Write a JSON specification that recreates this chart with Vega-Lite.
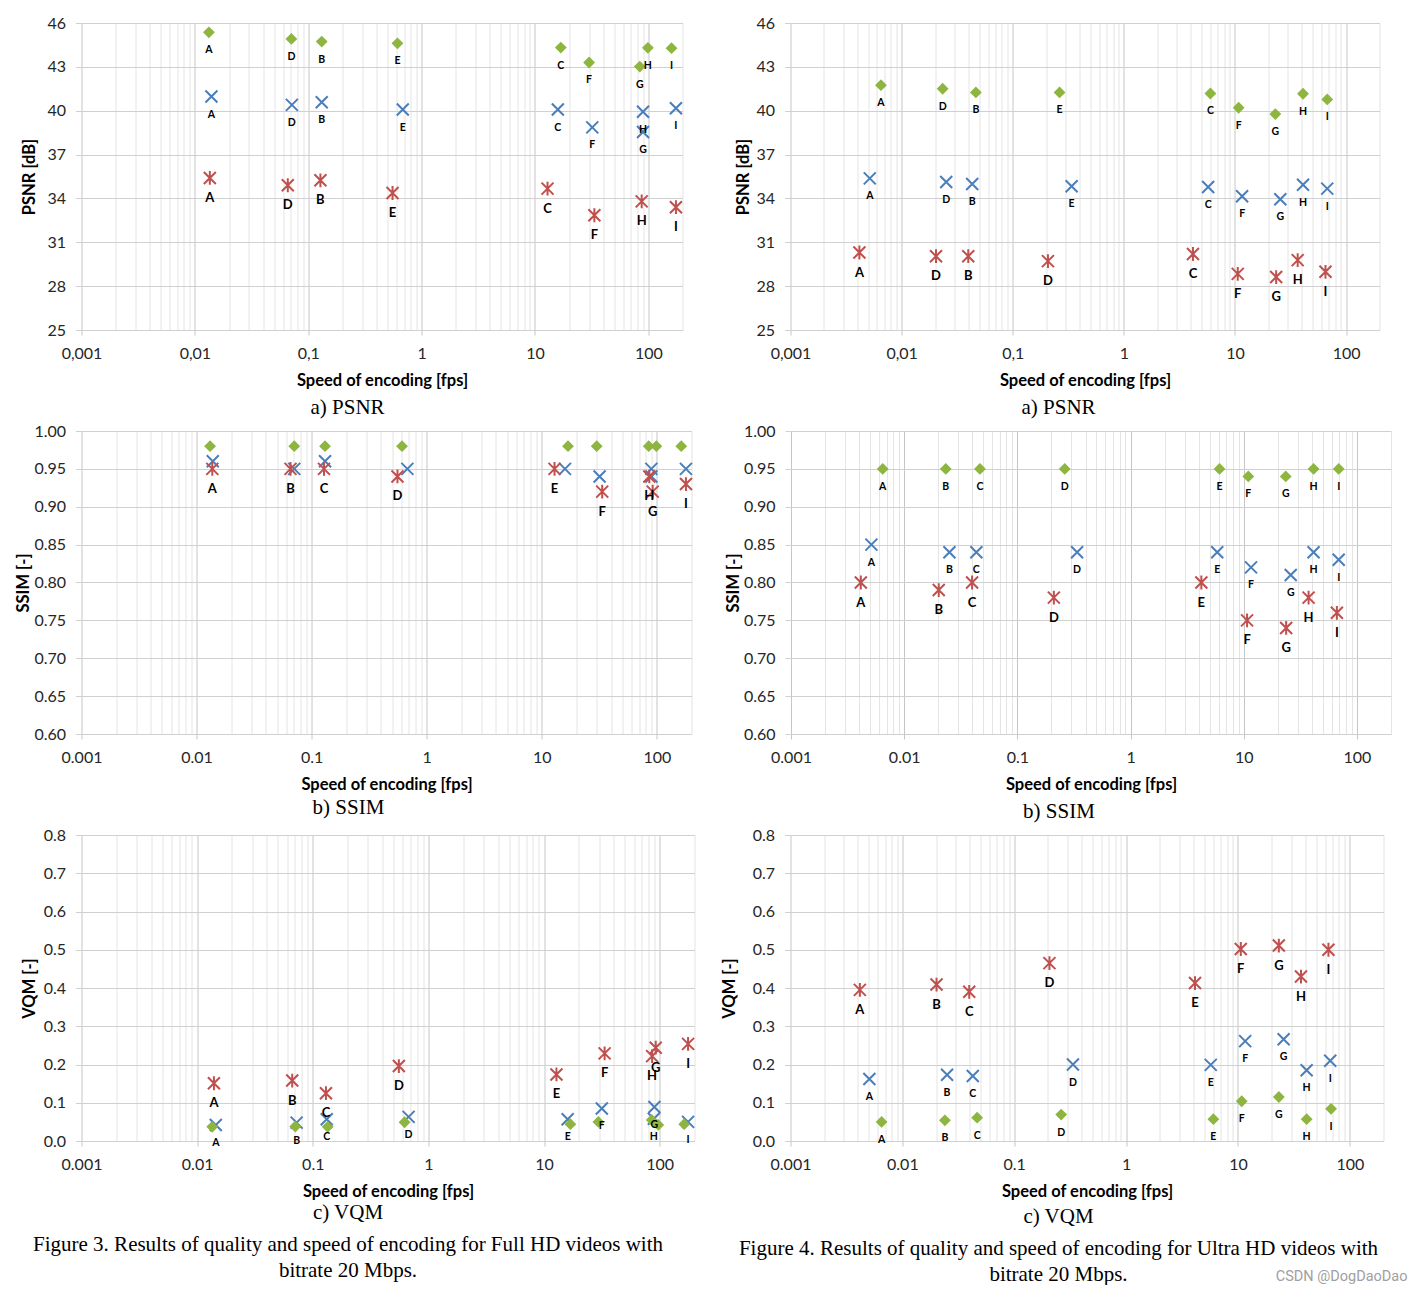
{
  "$schema": "https://vega.github.io/schema/vega-lite/v6.json",
  "background": "white",
  "padding": {"left": 15.5, "top": 15, "right": 0, "bottom": 0},
  "config": {
    "view": {"stroke": null},
    "axis": {"labelFont": "Lato", "labelFontSize": 16, "labelColor": "#262626", "titleFont": "Lato", "titleFontSize": 16.5, "titleFontWeight": "bold", "titleColor": "#000000", "domain": false, "gridWidth": 1},
    "axisY": {"tickSize": 6, "tickColor": "#d0d0d0", "gridColor": "#d0d0d0", "labelPadding": 10, "titlePadding": 4},
    "axisX": {"tickSize": 5, "labelPadding": 10, "titlePadding": 11},
    "title": {"font": "Liberation Serif", "fontSize": 21, "fontWeight": "normal", "color": "#000000", "subtitleFont": "Liberation Serif", "subtitleFontSize": 21, "subtitleColor": "#000000", "subtitleLineHeight": 26, "subtitlePadding": 11}
  },
  "datasets": {
    "psnrL": [
      {"series": "S1", "label": "A", "speed": 0.0133, "value": 45.36},
      {"series": "S1", "label": "D", "speed": 0.071, "value": 44.91},
      {"series": "S1", "label": "B", "speed": 0.1315, "value": 44.73},
      {"series": "S1", "label": "E", "speed": 0.612, "value": 44.61},
      {"series": "S1", "label": "C", "speed": 16.9, "value": 44.32},
      {"series": "S1", "label": "F", "speed": 30, "value": 43.3},
      {"series": "S1", "label": "G", "speed": 84, "value": 43.02},
      {"series": "S1", "label": "H", "speed": 99, "value": 44.3},
      {"series": "S1", "label": "I", "speed": 160, "value": 44.28},
      {"series": "S2", "label": "A", "speed": 0.014, "value": 40.97},
      {"series": "S2", "label": "D", "speed": 0.0717, "value": 40.4},
      {"series": "S2", "label": "B", "speed": 0.1315, "value": 40.58},
      {"series": "S2", "label": "E", "speed": 0.682, "value": 40.08},
      {"series": "S2", "label": "C", "speed": 15.9, "value": 40.08},
      {"series": "S2", "label": "F", "speed": 32, "value": 38.86},
      {"series": "S2", "label": "H", "speed": 89.7, "value": 39.93},
      {"series": "S2", "label": "G", "speed": 89.7, "value": 38.54},
      {"series": "S2", "label": "I", "speed": 175, "value": 40.17},
      {"series": "S3", "label": "A", "speed": 0.01355, "value": 35.4},
      {"series": "S3", "label": "D", "speed": 0.066, "value": 34.9},
      {"series": "S3", "label": "B", "speed": 0.128, "value": 35.24},
      {"series": "S3", "label": "E", "speed": 0.554, "value": 34.37},
      {"series": "S3", "label": "C", "speed": 12.9, "value": 34.67},
      {"series": "S3", "label": "F", "speed": 33.4, "value": 32.85},
      {"series": "S3", "label": "H", "speed": 87.3, "value": 33.8},
      {"series": "S3", "label": "I", "speed": 175, "value": 33.4}
    ],
    "psnrR": [
      {"series": "S1", "label": "A", "speed": 0.00652, "value": 41.75},
      {"series": "S1", "label": "D", "speed": 0.0234, "value": 41.5},
      {"series": "S1", "label": "B", "speed": 0.0466, "value": 41.25},
      {"series": "S1", "label": "E", "speed": 0.264, "value": 41.25},
      {"series": "S1", "label": "C", "speed": 6.01, "value": 41.18},
      {"series": "S1", "label": "F", "speed": 10.8, "value": 40.2},
      {"series": "S1", "label": "G", "speed": 23.1, "value": 39.77},
      {"series": "S1", "label": "H", "speed": 41, "value": 41.16},
      {"series": "S1", "label": "I", "speed": 67.7, "value": 40.77},
      {"series": "S2", "label": "A", "speed": 0.00517, "value": 35.37},
      {"series": "S2", "label": "D", "speed": 0.0252, "value": 35.12},
      {"series": "S2", "label": "B", "speed": 0.0432, "value": 34.99},
      {"series": "S2", "label": "E", "speed": 0.339, "value": 34.83},
      {"series": "S2", "label": "C", "speed": 5.74, "value": 34.78},
      {"series": "S2", "label": "F", "speed": 11.6, "value": 34.15},
      {"series": "S2", "label": "G", "speed": 25.6, "value": 33.94},
      {"series": "S2", "label": "H", "speed": 41, "value": 34.94},
      {"series": "S2", "label": "I", "speed": 67.7, "value": 34.67},
      {"series": "S3", "label": "A", "speed": 0.00417, "value": 30.3},
      {"series": "S3", "label": "D", "speed": 0.0204, "value": 30.05},
      {"series": "S3", "label": "B", "speed": 0.0398, "value": 30.05},
      {"series": "S3", "label": "D", "speed": 0.2075, "value": 29.71},
      {"series": "S3", "label": "C", "speed": 4.19, "value": 30.2},
      {"series": "S3", "label": "F", "speed": 10.6, "value": 28.84},
      {"series": "S3", "label": "G", "speed": 23.5, "value": 28.62},
      {"series": "S3", "label": "H", "speed": 36.7, "value": 29.78},
      {"series": "S3", "label": "I", "speed": 65.3, "value": 28.98}
    ],
    "ssimL": [
      {"series": "S1", "label": "A", "speed": 0.0131, "value": 0.98},
      {"series": "S1", "label": "B", "speed": 0.0706, "value": 0.98},
      {"series": "S1", "label": "C", "speed": 0.1307, "value": 0.98},
      {"series": "S1", "label": "D", "speed": 0.61, "value": 0.98},
      {"series": "S1", "label": "E", "speed": 16.9, "value": 0.98},
      {"series": "S1", "label": "F", "speed": 30, "value": 0.98},
      {"series": "S1", "label": "G", "speed": 85, "value": 0.98},
      {"series": "S1", "label": "H", "speed": 99, "value": 0.98},
      {"series": "S1", "label": "I", "speed": 163, "value": 0.98},
      {"series": "S2", "label": "A", "speed": 0.01383, "value": 0.96},
      {"series": "S2", "label": "B", "speed": 0.0706, "value": 0.95},
      {"series": "S2", "label": "C", "speed": 0.1307, "value": 0.96},
      {"series": "S2", "label": "D", "speed": 0.679, "value": 0.95},
      {"series": "S2", "label": "E", "speed": 15.9, "value": 0.95},
      {"series": "S2", "label": "F", "speed": 31.8, "value": 0.94},
      {"series": "S2", "label": "H", "speed": 89.6, "value": 0.95},
      {"series": "S2", "label": "G", "speed": 89.6, "value": 0.94},
      {"series": "S2", "label": "I", "speed": 179, "value": 0.95},
      {"series": "S3", "label": "A", "speed": 0.0137, "value": 0.95},
      {"series": "S3", "label": "B", "speed": 0.0655, "value": 0.95},
      {"series": "S3", "label": "C", "speed": 0.128, "value": 0.95},
      {"series": "S3", "label": "D", "speed": 0.557, "value": 0.94},
      {"series": "S3", "label": "E", "speed": 12.9, "value": 0.95},
      {"series": "S3", "label": "F", "speed": 33.5, "value": 0.92},
      {"series": "S3", "label": "H", "speed": 86, "value": 0.94},
      {"series": "S3", "label": "G", "speed": 92, "value": 0.92},
      {"series": "S3", "label": "I", "speed": 179, "value": 0.93}
    ],
    "ssimR": [
      {"series": "S1", "label": "A", "speed": 0.00646, "value": 0.95},
      {"series": "S1", "label": "B", "speed": 0.0233, "value": 0.95},
      {"series": "S1", "label": "C", "speed": 0.0467, "value": 0.95},
      {"series": "S1", "label": "D", "speed": 0.262, "value": 0.95},
      {"series": "S1", "label": "E", "speed": 6.11, "value": 0.95},
      {"series": "S1", "label": "F", "speed": 10.97, "value": 0.94},
      {"series": "S1", "label": "G", "speed": 23.5, "value": 0.94},
      {"series": "S1", "label": "H", "speed": 41.4, "value": 0.95},
      {"series": "S1", "label": "I", "speed": 69, "value": 0.95},
      {"series": "S2", "label": "A", "speed": 0.00513, "value": 0.85},
      {"series": "S2", "label": "B", "speed": 0.0251, "value": 0.84},
      {"series": "S2", "label": "C", "speed": 0.0434, "value": 0.84},
      {"series": "S2", "label": "D", "speed": 0.337, "value": 0.84},
      {"series": "S2", "label": "E", "speed": 5.83, "value": 0.84},
      {"series": "S2", "label": "F", "speed": 11.6, "value": 0.82},
      {"series": "S2", "label": "G", "speed": 26, "value": 0.81},
      {"series": "S2", "label": "H", "speed": 41.4, "value": 0.84},
      {"series": "S2", "label": "I", "speed": 69, "value": 0.83},
      {"series": "S3", "label": "A", "speed": 0.00414, "value": 0.8},
      {"series": "S3", "label": "B", "speed": 0.0202, "value": 0.79},
      {"series": "S3", "label": "C", "speed": 0.0398, "value": 0.8},
      {"series": "S3", "label": "D", "speed": 0.21, "value": 0.78},
      {"series": "S3", "label": "E", "speed": 4.22, "value": 0.8},
      {"series": "S3", "label": "F", "speed": 10.7, "value": 0.75},
      {"series": "S3", "label": "G", "speed": 23.7, "value": 0.74},
      {"series": "S3", "label": "H", "speed": 37.4, "value": 0.78},
      {"series": "S3", "label": "I", "speed": 66.5, "value": 0.76}
    ],
    "vqmL": [
      {"series": "S1", "label": "A", "speed": 0.0135, "value": 0.037},
      {"series": "S1", "label": "B", "speed": 0.0706, "value": 0.038},
      {"series": "S1", "label": "C", "speed": 0.1346, "value": 0.037},
      {"series": "S1", "label": "D", "speed": 0.622, "value": 0.049},
      {"series": "S1", "label": "E", "speed": 16.9, "value": 0.044},
      {"series": "S1", "label": "F", "speed": 29.5, "value": 0.05},
      {"series": "S1", "label": "G", "speed": 85.4, "value": 0.055},
      {"series": "S1", "label": "H", "speed": 97.3, "value": 0.042},
      {"series": "S1", "label": "I", "speed": 163, "value": 0.044},
      {"series": "S2", "label": "A", "speed": 0.0145, "value": 0.042},
      {"series": "S2", "label": "B", "speed": 0.0725, "value": 0.048},
      {"series": "S2", "label": "C", "speed": 0.132, "value": 0.057},
      {"series": "S2", "label": "D", "speed": 0.674, "value": 0.063},
      {"series": "S2", "label": "E", "speed": 16, "value": 0.057},
      {"series": "S2", "label": "F", "speed": 31.6, "value": 0.085},
      {"series": "S2", "label": "G", "speed": 90, "value": 0.089},
      {"series": "S2", "label": "H", "speed": 89, "value": 0.058},
      {"series": "S2", "label": "I", "speed": 176, "value": 0.05},
      {"series": "S3", "label": "A", "speed": 0.01397, "value": 0.151},
      {"series": "S3", "label": "B", "speed": 0.0664, "value": 0.158},
      {"series": "S3", "label": "C", "speed": 0.13, "value": 0.125},
      {"series": "S3", "label": "D", "speed": 0.555, "value": 0.196},
      {"series": "S3", "label": "E", "speed": 12.8, "value": 0.174},
      {"series": "S3", "label": "F", "speed": 33.4, "value": 0.229},
      {"series": "S3", "label": "H", "speed": 86, "value": 0.222},
      {"series": "S3", "label": "G", "speed": 92.4, "value": 0.244},
      {"series": "S3", "label": "I", "speed": 176, "value": 0.254}
    ],
    "vqmR": [
      {"series": "S1", "label": "A", "speed": 0.00652, "value": 0.05},
      {"series": "S1", "label": "B", "speed": 0.024, "value": 0.054},
      {"series": "S1", "label": "C", "speed": 0.0466, "value": 0.061},
      {"series": "S1", "label": "D", "speed": 0.263, "value": 0.069},
      {"series": "S1", "label": "E", "speed": 6.03, "value": 0.057},
      {"series": "S1", "label": "F", "speed": 10.8, "value": 0.104},
      {"series": "S1", "label": "G", "speed": 23.2, "value": 0.115},
      {"series": "S1", "label": "H", "speed": 41.1, "value": 0.057},
      {"series": "S1", "label": "I", "speed": 68, "value": 0.084},
      {"series": "S2", "label": "A", "speed": 0.00507, "value": 0.162},
      {"series": "S2", "label": "B", "speed": 0.0251, "value": 0.173},
      {"series": "S2", "label": "C", "speed": 0.0426, "value": 0.17},
      {"series": "S2", "label": "D", "speed": 0.335, "value": 0.2},
      {"series": "S2", "label": "E", "speed": 5.71, "value": 0.199},
      {"series": "S2", "label": "F", "speed": 11.6, "value": 0.261},
      {"series": "S2", "label": "G", "speed": 25.6, "value": 0.266},
      {"series": "S2", "label": "H", "speed": 41.1, "value": 0.185},
      {"series": "S2", "label": "I", "speed": 66.8, "value": 0.21},
      {"series": "S3", "label": "A", "speed": 0.00417, "value": 0.395},
      {"series": "S3", "label": "B", "speed": 0.0202, "value": 0.409},
      {"series": "S3", "label": "C", "speed": 0.0396, "value": 0.39},
      {"series": "S3", "label": "D", "speed": 0.2065, "value": 0.465},
      {"series": "S3", "label": "E", "speed": 4.13, "value": 0.413},
      {"series": "S3", "label": "F", "speed": 10.6, "value": 0.502},
      {"series": "S3", "label": "G", "speed": 23.2, "value": 0.511},
      {"series": "S3", "label": "H", "speed": 36.6, "value": 0.43},
      {"series": "S3", "label": "I", "speed": 64.4, "value": 0.5}
    ]
  },
  "title": {"text": "CSDN @DogDaoDao", "orient": "bottom", "anchor": "end", "font": "Roboto", "fontSize": 14.5, "fontWeight": "normal", "color": "#a0a0a0", "dy": -15, "dx": 16, "offset": 0},
  "resolve": {"scale": {"x": "independent", "y": "independent"}},
  "spacing": 5,
  "vconcat": [
    {
      "spacing": 48,
      "resolve": {"scale": {"x": "independent", "y": "independent"}},
      "hconcat": [
        {
          "width": 601, "height": 307,
          "data": {"name": "psnrL"},
          "title": {"text": "a) PSNR", "orient": "bottom", "offset": 8, "dx": -34.5},
          "encoding": {
            "x": {"field": "speed", "type": "quantitative", "scale": {"type": "log", "domain": [0.001, 200], "nice": false},
              "axis": {"title": "Speed of encoding [fps]", "values": [0.001,0.002,0.003,0.004,0.005,0.006,0.007,0.008,0.009,0.01,0.02,0.03,0.04,0.05,0.06,0.07,0.08,0.09,0.1,0.2,0.3,0.4,0.5,0.6,0.7,0.8,0.9,1,2,3,4,5,6,7,8,9,10,20,30,40,50,60,70,80,90,100,200],
                "labelExpr": "indexof([0.001,0.01,0.1,1,10,100], datum.value) >= 0 ? replace(toString(datum.value), '.', ',') : ''",
                "labelOverlap": false, "labelFlush": false,
                "gridColor": {"condition": {"test": "indexof([0.001,0.01,0.1,1,10,100], datum.value) >= 0", "value": "#c6c6c6"}, "value": "#e4e4e4"},
                "tickColor": {"condition": {"test": "indexof([0.001,0.01,0.1,1,10,100], datum.value) >= 0", "value": "#c6c6c6"}, "value": "rgba(0,0,0,0)"}}},
            "y": {"field": "value", "type": "quantitative", "scale": {"domain": [25, 46], "nice": false, "zero": false},
              "axis": {"title": "PSNR  [dB]", "values": [25,28,31,34,37,40,43,46], "minExtent": 40, "maxExtent": 40}}
          },
          "layer": [
            {"transform": [{"filter": "datum.series != 'S1'"}], "mark": {"type": "point", "filled": false, "size": 144, "strokeWidth": 2, "opacity": 1},
              "encoding": {"shape": {"field": "series", "type": "nominal", "scale": {"domain": ["S2","S3"], "range": ["M-1,-1L1,1M1,-1L-1,1", "M-1,-1L1,1M1,-1L-1,1M0,-1.15L0,1.15"]}, "legend": null},
                "color": {"field": "series", "type": "nominal", "scale": {"domain": ["S2","S3"], "range": ["#4a7ebb","#c0504d"]}, "legend": null}}},
            {"transform": [{"filter": "datum.series == 'S1'"}], "mark": {"type": "point", "shape": "diamond", "filled": true, "size": 140, "color": "#8db53f", "opacity": 1}},
            {"transform": [{"filter": "datum.series != 'S3'"}], "mark": {"type": "text", "dy": 18, "fontSize": 10.5, "fontWeight": "bold", "font": "Lato", "color": "#000000"}, "encoding": {"text": {"field": "label"}}},
            {"transform": [{"filter": "datum.series == 'S3'"}], "mark": {"type": "text", "dy": 20, "fontSize": 13, "fontWeight": "bold", "font": "Lato", "color": "#000000"}, "encoding": {"text": {"field": "label"}}}
          ]
        },
        {
          "width": 589, "height": 307,
          "data": {"name": "psnrR"},
          "title": {"text": "a) PSNR", "orient": "bottom", "offset": 8, "dx": -26.5},
          "encoding": {
            "x": {"field": "speed", "type": "quantitative", "scale": {"type": "log", "domain": [0.001, 200], "nice": false},
              "axis": {"title": "Speed of encoding [fps]", "values": [0.001,0.002,0.003,0.004,0.005,0.006,0.007,0.008,0.009,0.01,0.02,0.03,0.04,0.05,0.06,0.07,0.08,0.09,0.1,0.2,0.3,0.4,0.5,0.6,0.7,0.8,0.9,1,2,3,4,5,6,7,8,9,10,20,30,40,50,60,70,80,90,100,200],
                "labelExpr": "indexof([0.001,0.01,0.1,1,10,100], datum.value) >= 0 ? replace(toString(datum.value), '.', ',') : ''",
                "labelOverlap": false, "labelFlush": false,
                "gridColor": {"condition": {"test": "indexof([0.001,0.01,0.1,1,10,100], datum.value) >= 0", "value": "#c6c6c6"}, "value": "#e4e4e4"},
                "tickColor": {"condition": {"test": "indexof([0.001,0.01,0.1,1,10,100], datum.value) >= 0", "value": "#c6c6c6"}, "value": "rgba(0,0,0,0)"}}},
            "y": {"field": "value", "type": "quantitative", "scale": {"domain": [25, 46], "nice": false, "zero": false},
              "axis": {"title": "PSNR  [dB]", "values": [25,28,31,34,37,40,43,46], "minExtent": 35.5, "maxExtent": 35.5}}
          },
          "layer": [
            {"transform": [{"filter": "datum.series != 'S1'"}], "mark": {"type": "point", "filled": false, "size": 144, "strokeWidth": 2, "opacity": 1},
              "encoding": {"shape": {"field": "series", "type": "nominal", "scale": {"domain": ["S2","S3"], "range": ["M-1,-1L1,1M1,-1L-1,1", "M-1,-1L1,1M1,-1L-1,1M0,-1.15L0,1.15"]}, "legend": null},
                "color": {"field": "series", "type": "nominal", "scale": {"domain": ["S2","S3"], "range": ["#4a7ebb","#c0504d"]}, "legend": null}}},
            {"transform": [{"filter": "datum.series == 'S1'"}], "mark": {"type": "point", "shape": "diamond", "filled": true, "size": 140, "color": "#8db53f", "opacity": 1}},
            {"transform": [{"filter": "datum.series != 'S3'"}], "mark": {"type": "text", "dy": 18, "fontSize": 10.5, "fontWeight": "bold", "font": "Lato", "color": "#000000"}, "encoding": {"text": {"field": "label"}}},
            {"transform": [{"filter": "datum.series == 'S3'"}], "mark": {"type": "text", "dy": 20, "fontSize": 13, "fontWeight": "bold", "font": "Lato", "color": "#000000"}, "encoding": {"text": {"field": "label"}}}
          ]
        }
      ]
    },
    {
      "spacing": 28.5,
      "resolve": {"scale": {"x": "independent", "y": "independent"}},
      "hconcat": [
        {
          "width": 610, "height": 303,
          "data": {"name": "ssimL"},
          "title": {"text": "b) SSIM", "orient": "bottom", "offset": 4, "dx": -38},
          "encoding": {
            "x": {"field": "speed", "type": "quantitative", "scale": {"type": "log", "domain": [0.001, 200], "nice": false},
              "axis": {"title": "Speed of encoding [fps]", "values": [0.001,0.002,0.003,0.004,0.005,0.006,0.007,0.008,0.009,0.01,0.02,0.03,0.04,0.05,0.06,0.07,0.08,0.09,0.1,0.2,0.3,0.4,0.5,0.6,0.7,0.8,0.9,1,2,3,4,5,6,7,8,9,10,20,30,40,50,60,70,80,90,100,200],
                "labelExpr": "indexof([0.001,0.01,0.1,1,10,100], datum.value) >= 0 ? toString(datum.value) : ''",
                "labelOverlap": false, "labelFlush": false,
                "gridColor": {"condition": {"test": "indexof([0.001,0.01,0.1,1,10,100], datum.value) >= 0", "value": "#c6c6c6"}, "value": "#e4e4e4"},
                "tickColor": {"condition": {"test": "indexof([0.001,0.01,0.1,1,10,100], datum.value) >= 0", "value": "#c6c6c6"}, "value": "rgba(0,0,0,0)"}}},
            "y": {"field": "value", "type": "quantitative", "scale": {"domain": [0.6, 1], "nice": false, "zero": false},
              "axis": {"title": "SSIM [-]", "values": [0.6,0.65,0.7,0.75,0.8,0.85,0.9,0.95,1], "format": ".2f", "minExtent": 46, "maxExtent": 46}}
          },
          "layer": [
            {"transform": [{"filter": "datum.series != 'S1'"}], "mark": {"type": "point", "filled": false, "size": 144, "strokeWidth": 2, "opacity": 1},
              "encoding": {"shape": {"field": "series", "type": "nominal", "scale": {"domain": ["S2","S3"], "range": ["M-1,-1L1,1M1,-1L-1,1", "M-1,-1L1,1M1,-1L-1,1M0,-1.15L0,1.15"]}, "legend": null},
                "color": {"field": "series", "type": "nominal", "scale": {"domain": ["S2","S3"], "range": ["#4a7ebb","#c0504d"]}, "legend": null}}},
            {"transform": [{"filter": "datum.series == 'S1'"}], "mark": {"type": "point", "shape": "diamond", "filled": true, "size": 140, "color": "#8db53f", "opacity": 1}},
            {"transform": [{"filter": "datum.series == 'S3'"}], "mark": {"type": "text", "dy": 20, "fontSize": 13, "fontWeight": "bold", "font": "Lato", "color": "#000000"}, "encoding": {"text": {"field": "label"}}}
          ]
        },
        {
          "width": 600, "height": 303,
          "data": {"name": "ssimR"},
          "title": {"text": "b) SSIM", "orient": "bottom", "offset": 8, "dx": -32},
          "encoding": {
            "x": {"field": "speed", "type": "quantitative", "scale": {"type": "log", "domain": [0.001, 200], "nice": false},
              "axis": {"title": "Speed of encoding [fps]", "values": [0.001,0.002,0.003,0.004,0.005,0.006,0.007,0.008,0.009,0.01,0.02,0.03,0.04,0.05,0.06,0.07,0.08,0.09,0.1,0.2,0.3,0.4,0.5,0.6,0.7,0.8,0.9,1,2,3,4,5,6,7,8,9,10,20,30,40,50,60,70,80,90,100,200],
                "labelExpr": "indexof([0.001,0.01,0.1,1,10,100], datum.value) >= 0 ? toString(datum.value) : ''",
                "labelOverlap": false, "labelFlush": false,
                "gridColor": {"condition": {"test": "indexof([0.001,0.01,0.1,1,10,100], datum.value) >= 0", "value": "#c6c6c6"}, "value": "#e4e4e4"},
                "tickColor": {"condition": {"test": "indexof([0.001,0.01,0.1,1,10,100], datum.value) >= 0", "value": "#c6c6c6"}, "value": "rgba(0,0,0,0)"}}},
            "y": {"field": "value", "type": "quantitative", "scale": {"domain": [0.6, 1], "nice": false, "zero": false},
              "axis": {"title": "SSIM [-]", "values": [0.6,0.65,0.7,0.75,0.8,0.85,0.9,0.95,1], "format": ".2f", "minExtent": 46, "maxExtent": 46}}
          },
          "layer": [
            {"transform": [{"filter": "datum.series != 'S1'"}], "mark": {"type": "point", "filled": false, "size": 144, "strokeWidth": 2, "opacity": 1},
              "encoding": {"shape": {"field": "series", "type": "nominal", "scale": {"domain": ["S2","S3"], "range": ["M-1,-1L1,1M1,-1L-1,1", "M-1,-1L1,1M1,-1L-1,1M0,-1.15L0,1.15"]}, "legend": null},
                "color": {"field": "series", "type": "nominal", "scale": {"domain": ["S2","S3"], "range": ["#4a7ebb","#c0504d"]}, "legend": null}}},
            {"transform": [{"filter": "datum.series == 'S1'"}], "mark": {"type": "point", "shape": "diamond", "filled": true, "size": 140, "color": "#8db53f", "opacity": 1}},
            {"transform": [{"filter": "datum.series != 'S3'"}], "mark": {"type": "text", "dy": 18, "fontSize": 10.5, "fontWeight": "bold", "font": "Lato", "color": "#000000"}, "encoding": {"text": {"field": "label"}}},
            {"transform": [{"filter": "datum.series == 'S3'"}], "mark": {"type": "text", "dy": 20, "fontSize": 13, "fontWeight": "bold", "font": "Lato", "color": "#000000"}, "encoding": {"text": {"field": "label"}}}
          ]
        }
      ]
    },
    {
      "spacing": 22,
      "resolve": {"scale": {"x": "independent", "y": "independent"}},
      "hconcat": [
        {
          "width": 613, "height": 306,
          "data": {"name": "vqmL"},
          "title": {"text": "c) VQM", "subtitle": ["Figure 3. Results of quality and speed of encoding for Full HD videos with", "bitrate 20 Mbps."], "orient": "bottom", "offset": 2, "dx": -40},
          "encoding": {
            "x": {"field": "speed", "type": "quantitative", "scale": {"type": "log", "domain": [0.001, 200], "nice": false},
              "axis": {"title": "Speed of encoding [fps]", "values": [0.001,0.002,0.003,0.004,0.005,0.006,0.007,0.008,0.009,0.01,0.02,0.03,0.04,0.05,0.06,0.07,0.08,0.09,0.1,0.2,0.3,0.4,0.5,0.6,0.7,0.8,0.9,1,2,3,4,5,6,7,8,9,10,20,30,40,50,60,70,80,90,100,200],
                "labelExpr": "indexof([0.001,0.01,0.1,1,10,100], datum.value) >= 0 ? toString(datum.value) : ''",
                "labelOverlap": false, "labelFlush": false,
                "gridColor": {"condition": {"test": "indexof([0.001,0.01,0.1,1,10,100], datum.value) >= 0", "value": "#c6c6c6"}, "value": "#e4e4e4"},
                "tickColor": {"condition": {"test": "indexof([0.001,0.01,0.1,1,10,100], datum.value) >= 0", "value": "#c6c6c6"}, "value": "rgba(0,0,0,0)"}}},
            "y": {"field": "value", "type": "quantitative", "scale": {"domain": [0, 0.8], "nice": false, "zero": false},
              "axis": {"title": "VQM [-]", "values": [0,0.1,0.2,0.3,0.4,0.5,0.6,0.7,0.8], "format": ".1f", "minExtent": 40, "maxExtent": 40}}
          },
          "layer": [
            {"transform": [{"filter": "datum.series != 'S1'"}], "mark": {"type": "point", "filled": false, "size": 144, "strokeWidth": 2, "opacity": 1},
              "encoding": {"shape": {"field": "series", "type": "nominal", "scale": {"domain": ["S2","S3"], "range": ["M-1,-1L1,1M1,-1L-1,1", "M-1,-1L1,1M1,-1L-1,1M0,-1.15L0,1.15"]}, "legend": null},
                "color": {"field": "series", "type": "nominal", "scale": {"domain": ["S2","S3"], "range": ["#4a7ebb","#c0504d"]}, "legend": null}}},
            {"transform": [{"filter": "datum.series == 'S1'"}], "mark": {"type": "point", "shape": "diamond", "filled": true, "size": 140, "color": "#8db53f", "opacity": 1}},
            {"transform": [{"filter": "datum.series == 'S2'"}], "mark": {"type": "text", "dy": 18, "fontSize": 10.5, "fontWeight": "bold", "font": "Lato", "color": "#000000"}, "encoding": {"text": {"field": "label"}}},
            {"transform": [{"filter": "datum.series == 'S3'"}], "mark": {"type": "text", "dy": 20, "fontSize": 13, "fontWeight": "bold", "font": "Lato", "color": "#000000"}, "encoding": {"text": {"field": "label"}}}
          ]
        },
        {
          "width": 593, "height": 306,
          "data": {"name": "vqmR"},
          "title": {"text": "c) VQM", "subtitle": ["Figure 4. Results of quality and speed of encoding for Ultra HD videos with", "bitrate 20 Mbps."], "orient": "bottom", "offset": 6, "dx": -28.5},
          "encoding": {
            "x": {"field": "speed", "type": "quantitative", "scale": {"type": "log", "domain": [0.001, 200], "nice": false},
              "axis": {"title": "Speed of encoding [fps]", "values": [0.001,0.002,0.003,0.004,0.005,0.006,0.007,0.008,0.009,0.01,0.02,0.03,0.04,0.05,0.06,0.07,0.08,0.09,0.1,0.2,0.3,0.4,0.5,0.6,0.7,0.8,0.9,1,2,3,4,5,6,7,8,9,10,20,30,40,50,60,70,80,90,100,200],
                "labelExpr": "indexof([0.001,0.01,0.1,1,10,100], datum.value) >= 0 ? toString(datum.value) : ''",
                "labelOverlap": false, "labelFlush": false,
                "gridColor": {"condition": {"test": "indexof([0.001,0.01,0.1,1,10,100], datum.value) >= 0", "value": "#c6c6c6"}, "value": "#e4e4e4"},
                "tickColor": {"condition": {"test": "indexof([0.001,0.01,0.1,1,10,100], datum.value) >= 0", "value": "#c6c6c6"}, "value": "rgba(0,0,0,0)"}}},
            "y": {"field": "value", "type": "quantitative", "scale": {"domain": [0, 0.8], "nice": false, "zero": false},
              "axis": {"title": "VQM [-]", "values": [0,0.1,0.2,0.3,0.4,0.5,0.6,0.7,0.8], "format": ".1f", "minExtent": 49.5, "maxExtent": 49.5}}
          },
          "layer": [
            {"transform": [{"filter": "datum.series != 'S1'"}], "mark": {"type": "point", "filled": false, "size": 144, "strokeWidth": 2, "opacity": 1},
              "encoding": {"shape": {"field": "series", "type": "nominal", "scale": {"domain": ["S2","S3"], "range": ["M-1,-1L1,1M1,-1L-1,1", "M-1,-1L1,1M1,-1L-1,1M0,-1.15L0,1.15"]}, "legend": null},
                "color": {"field": "series", "type": "nominal", "scale": {"domain": ["S2","S3"], "range": ["#4a7ebb","#c0504d"]}, "legend": null}}},
            {"transform": [{"filter": "datum.series == 'S1'"}], "mark": {"type": "point", "shape": "diamond", "filled": true, "size": 140, "color": "#8db53f", "opacity": 1}},
            {"transform": [{"filter": "datum.series != 'S3'"}], "mark": {"type": "text", "dy": 18, "fontSize": 10.5, "fontWeight": "bold", "font": "Lato", "color": "#000000"}, "encoding": {"text": {"field": "label"}}},
            {"transform": [{"filter": "datum.series == 'S3'"}], "mark": {"type": "text", "dy": 20, "fontSize": 13, "fontWeight": "bold", "font": "Lato", "color": "#000000"}, "encoding": {"text": {"field": "label"}}}
          ]
        }
      ]
    }
  ]
}
